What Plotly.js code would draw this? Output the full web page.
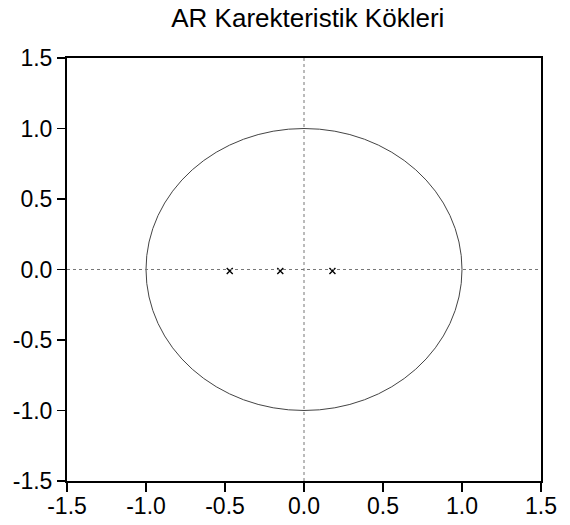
<!DOCTYPE html>
<html><head><meta charset="utf-8">
<script src="https://cdn.plot.ly/plotly-3.0.1.min.js"></script>
<style>body{margin:0;background:#fff}</style>
</head><body>
<div id="chart" style="width:570px;height:525px"></div>
<script>
var rootsReal = [-0.47, -0.15, 0.18];
var rootsImag = [-0.01, -0.01, -0.01];
var tickVals = [-1.5, -1.0, -0.5, 0.0, 0.5, 1.0, 1.5];
var tickText = ["-1.5", "-1.0", "-0.5", "0.0", "0.5", "1.0", "1.5"];

var trace = {
  x: rootsReal, y: rootsImag, type: 'scatter', mode: 'markers',
  marker: {symbol: 'x-thin', size: 6, color: '#000', line: {width: 1.4, color: '#000'}},
  showlegend: false, hoverinfo: 'skip'
};
var layout = {
  width: 570, height: 525,
  margin: {l: 67, r: 29, t: 58, b: 44},
  paper_bgcolor: '#fff', plot_bgcolor: '#fff',
  font: {family: 'Liberation Sans, Arial, sans-serif', color: '#000', size: 23},
  title: {text: 'AR Karekteristik Kökleri', font: {size: 26, color: '#000'}, x: 0.54, xanchor: 'center', y: 0.966, yanchor: 'middle'},
  xaxis: {range: [-1.5, 1.5], tickvals: tickVals, ticktext: tickText, ticks: 'outside', ticklen: 9, tickwidth: 1.5, tickcolor: '#000',
    ticklabelstandoff: -6,
    showline: true, linecolor: '#000', linewidth: 2, mirror: true, showgrid: false, zeroline: false, tickfont: {size: 23}},
  yaxis: {range: [-1.5, 1.5], tickvals: tickVals, ticktext: tickText, ticks: 'outside', ticklen: 8, tickwidth: 1.5, tickcolor: '#000',
    showline: true, linecolor: '#000', linewidth: 2, mirror: true, showgrid: false, zeroline: false, tickfont: {size: 23}},
  shapes: [
    {type: 'circle', xref: 'x', yref: 'y', x0: -1, x1: 1, y0: -1, y1: 1, line: {color: '#444', width: 1}},
    {type: 'line', xref: 'x', yref: 'y', x0: -1.5, x1: 1.5, y0: 0, y1: 0, line: {color: '#777', width: 1, dash: 'dot'}},
    {type: 'line', xref: 'x', yref: 'y', x0: 0, x1: 0, y0: -1.5, y1: 1.5, line: {color: '#777', width: 1, dash: 'dot'}}
  ]
};
Plotly.newPlot('chart', [trace], layout, {displayModeBar: false, staticPlot: true});
</script>
</body></html>
